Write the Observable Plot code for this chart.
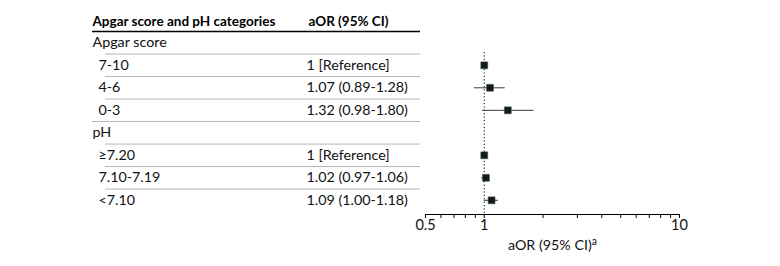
<!DOCTYPE html>
<html>
<head>
<meta charset="utf-8">
<script src="https://cdn.jsdelivr.net/npm/d3@7"></script>
<script src="https://cdn.jsdelivr.net/npm/@observablehq/plot@0.6"></script>
<style>
  html, body { margin: 0; padding: 0; background: #fff; }
  #chart svg { display: block; }
</style>
</head>
<body>
<div id="chart"></div>
<script>
// ---- data ----
const rowLabels = ["Apgar score", "7-10", "4-6", "0-3", "pH", "≥7.20", "7.10-7.19", "<7.10"];
const rowIsGroup = [true, false, false, false, true, false, false, false];
const aorText = ["", "1 [Reference]", "1.07 (0.89-1.28)", "1.32 (0.98-1.80)", "", "1 [Reference]", "1.02 (0.97-1.06)", "1.09 (1.00-1.18)"];
const aor = [null, 1, 1.07, 1.32, null, 1, 1.02, 1.09];
const ciLow = [null, null, 0.89, 0.98, null, null, 0.97, 1.00];
const ciHigh = [null, null, 1.28, 1.80, null, null, 1.06, 1.18];
const headerLabels = ["Apgar score and pH categories", "aOR (95% CI)"];
const majorTicks = [0.5, 1, 10];
const majorTickLabels = ["0.5", "1", "10"];
const minorTicks = [0.6, 0.7, 0.8, 0.9, 2, 3, 4, 5, 6, 7, 8, 9];
const axisTitle = "aOR (95% CI)";
const axisTitleSup = "a";

// ---- build table ----
const rows = rowLabels.map((label, i) => ({
  i, label, group: rowIsGroup[i], text: aorText[i],
  aor: aor[i], lo: ciLow[i], hi: ciHigh[i]
}));
const groupRows = rows.filter(d => d.group);
const subRows = rows.filter(d => !d.group);
const pointRows = rows.filter(d => d.aor != null);
const ciRows = rows.filter(d => d.lo != null);
const seps = rows.slice(0, -1).map(d => ({y: d.i + 0.5, nextGroup: rows[d.i + 1].group}));
const allTicks = [...majorTicks, ...minorTicks].sort((a, b) => a - b);
const tickLabelRows = majorTicks.map((v, k) => ({v, label: majorTickLabels[k]}));

const FONT = "Lato, 'Liberation Sans', Arial, sans-serif";
const FS = 14.3;
const TEXT = "#111";

const ML = 425, MR = 101;
const chart = Plot.plot({
  width: 780,
  height: 266,
  marginLeft: ML,
  marginRight: MR,
  marginTop: 52,
  marginBottom: 52,
  style: {fontFamily: FONT, fontSize: FS + "px", color: "#000", background: "#fff"},
  x: {type: "log", domain: [0.5, 10]},
  y: {domain: [0, 7], range: [42.3, 199.8], axis: null},
  marks: [
    // header
    Plot.text([headerLabels[0]], {y: -1, frameAnchor: "left", dx: 92 - ML, textAnchor: "start", fontWeight: "bold", fontSize: 13.5, dy: 1, fill: "#000"}),
    Plot.text([headerLabels[1]], {y: -1, frameAnchor: "left", dx: 308 - ML, textAnchor: "start", fontWeight: "bold", fontSize: 13.5, dy: 1, fill: "#000"}),
    Plot.ruleY([-0.5], {stroke: "#000", strokeWidth: 1.6, insetLeft: 92 - ML, insetRight: 679 - 420}),
    // separators
    Plot.ruleY(seps.filter(d => !d.nextGroup), {y: "y", stroke: "#b5b5b5", strokeWidth: 1, insetLeft: 105 - ML, insetRight: 679 - 420}),
    Plot.ruleY(seps.filter(d => d.nextGroup), {y: "y", stroke: "#b5b5b5", strokeWidth: 1, insetLeft: 92 - ML, insetRight: 679 - 420}),
    // row labels
    Plot.text(groupRows, {y: "i", text: "label", frameAnchor: "left", dx: 92 - ML, textAnchor: "start", fontSize: FS, fill: TEXT}),
    Plot.text(subRows, {y: "i", text: "label", frameAnchor: "left", dx: 98 - ML, textAnchor: "start", fontSize: FS, fill: TEXT}),
    Plot.text(subRows, {y: "i", text: "text", frameAnchor: "left", dx: 306 - ML, textAnchor: "start", fontSize: FS, fill: TEXT}),
    // reference line
    Plot.ruleX([1], {stroke: "#000", strokeWidth: 1, strokeDasharray: "1.2,2.2"}),
    // CIs
    Plot.ruleY(ciRows, {y: "i", x1: "lo", x2: "hi", stroke: "#3a3a3a", strokeWidth: 1}),
    // points
    Plot.dot(pointRows, {x: "aor", y: "i", symbol: "square", r: 3.9, fill: "#0b1a1a", stroke: "#555", strokeWidth: 0.6}),
    // axis line, ticks and labels
    Plot.frame({anchor: "bottom", stroke: "#000", strokeWidth: 1}),
    Plot.axisX(allTicks, {tickSize: 4, text: null, stroke: "#000", label: null}),
    Plot.text(tickLabelRows, {x: "v", text: "label", frameAnchor: "bottom", dy: 15, fontSize: 14.5, fill: TEXT}),
    Plot.text([axisTitle], {frameAnchor: "bottom", dy: 35, fontSize: 14.3, fill: "#111112"})
  ]
});

document.getElementById("chart").appendChild(chart);
// superscript on the axis title
d3.select(chart).selectAll('g[fill="#111112"] text')
  .append("tspan").attr("dy", "-0.45em").attr("font-size", "10.5px").text(axisTitleSup);
</script>
</body>
</html>
